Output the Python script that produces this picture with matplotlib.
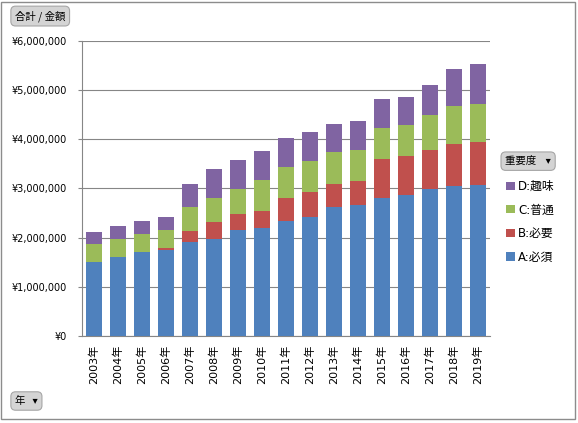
import matplotlib
matplotlib.use('Agg')
import matplotlib.pyplot as plt
import numpy as np

plt.rcParams['font.family'] = ['DejaVu Sans', 'Noto Sans CJK JP']

# data (yen)
years = ['2003年', '2004年', '2005年', '2006年', '2007年', '2008年', '2009年',
         '2010年', '2011年', '2012年', '2013年', '2014年', '2015年', '2016年',
         '2017年', '2018年', '2019年']
a_hissu = [1505000, 1607000, 1714000, 1750000, 1918000, 1965000, 2149000,
           2195000, 2332000, 2428000, 2617000, 2658000, 2807000, 2861000,
           2998000, 3045000, 3071000]
b_hitsuyo = [0, 0, 0, 47000, 217000, 352000, 326000,
             346000, 475000, 500000, 468000, 495000, 788000, 794000,
             780000, 855000, 870000]
c_futsu = [376000, 372000, 366000, 360000, 495000, 483000, 509000,
           625000, 631000, 625000, 658000, 625000, 631000, 631000,
           713000, 774000, 774000]
d_shumi = [240000, 258000, 258000, 264000, 460000, 590000, 590000,
           590000, 584000, 590000, 564000, 590000, 590000, 577000,
           611000, 754000, 815000]
series_names = ['A:必須', 'B:必要', 'C:普通', 'D:趣味']
colors = ['#4F81BD', '#C0504D', '#9BBB59', '#8064A2']

fig = plt.figure(figsize=(5.78, 4.23), dpi=100)
ax = fig.add_axes([0.1419, 0.2057, 0.7059, 0.6974])

x = np.arange(len(years))
bottom = np.zeros(len(years))
handles = []
for vals, name, c in zip([a_hissu, b_hitsuyo, c_futsu, d_shumi], series_names, colors):
    h = ax.bar(x, vals, width=0.63, bottom=bottom, color=c, label=name, zorder=3)
    handles.append(h)
    bottom += np.array(vals)

ax.set_xlim(-0.5, len(years) - 0.5)
ax.set_ylim(0, 6000000)
ax.set_yticks(np.arange(0, 6000001, 1000000))
ax.yaxis.set_major_formatter(matplotlib.ticker.FuncFormatter(lambda v, p: '¥{:,}'.format(int(v))))
ax.set_xticks(x)
ax.set_xticklabels(years, rotation=90, fontsize=8)
ax.tick_params(axis='y', labelsize=7, length=3, color='#868686', pad=8)
ax.tick_params(axis='x', length=0, pad=6)
ax.grid(axis='y', color='#868686', lw=0.8, zorder=0)
for s in ['top', 'right']:
    ax.spines[s].set_visible(False)
for s in ['left', 'bottom']:
    ax.spines[s].set_color('#868686')

leg = fig.legend(handles[::-1], series_names[::-1], loc='upper left',
                 bbox_to_anchor=(0.868, 0.586), frameon=False, fontsize=8.5,
                 handlelength=0.7, handleheight=0.7, handletextpad=0.3,
                 labelspacing=0.9, borderaxespad=0)

# pivot field buttons
btn = dict(boxstyle='round,pad=0.4,rounding_size=0.45', fc='#d4d4d4', ec='#a6a6a6', lw=0.8)
fig.text(0.026, 0.962, '合計 / 金額', fontsize=7.5, va='center', ha='left',
         family=['Noto Sans CJK JP'], bbox=btn)
fig.text(0.874, 0.619, '重要度    ▾', fontsize=7.5, va='center', ha='left',
         family=['Noto Sans CJK JP', 'DejaVu Sans'], bbox=btn)
fig.text(0.026, 0.052, '年   ▾', fontsize=7.5, va='center', ha='left',
         family=['Noto Sans CJK JP', 'DejaVu Sans'], bbox=btn)

# chart frame
fig.add_artist(plt.Rectangle((0.002, 0.01), 0.993, 0.986, transform=fig.transFigure,
                             fill=False, ec='#8c8c8c', lw=1))

fig.savefig('out.png', dpi=100)
